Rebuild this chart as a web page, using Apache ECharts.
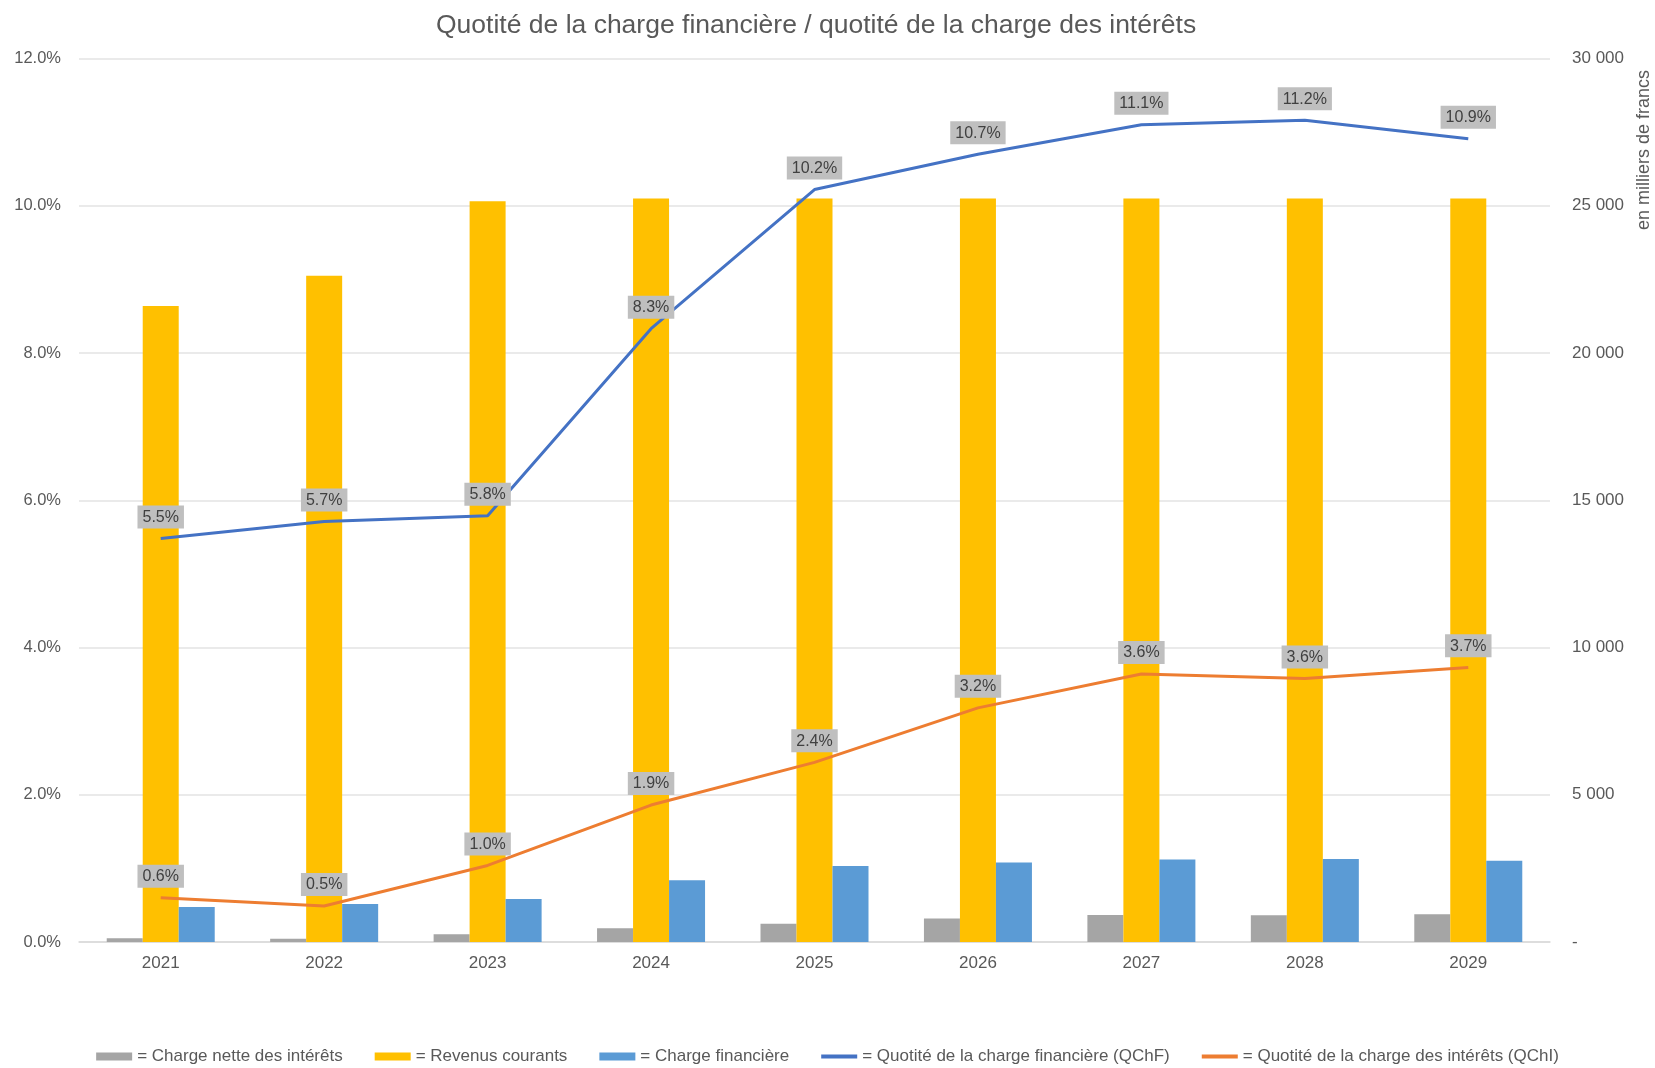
<!DOCTYPE html>
<html>
<head>
<meta charset="utf-8">
<script src="https://cdn.jsdelivr.net/npm/echarts@6/dist/echarts.min.js"></script>
<style>html,body{margin:0;padding:0;background:#fff}#c{width:1655px;height:1068px}</style>
</head>
<body>
<div id="c"></div>
<script>
const years = ['2021','2022','2023','2024','2025','2026','2027','2028','2029'];
const chargeNette = [130, 110, 265, 470, 620, 800, 920, 905, 945];
const revenus = [21600, 22620, 25150, 25250, 25250, 25250, 25250, 25250, 25250];
const chargeFin = [1190, 1290, 1460, 2100, 2580, 2700, 2800, 2820, 2760];
const qchf = [5.48, 5.71, 5.79, 8.33, 10.22, 10.70, 11.10, 11.16, 10.91];
const qchi = [0.60, 0.49, 1.04, 1.86, 2.44, 3.18, 3.64, 3.58, 3.73];
const leftTicks = {min: 0, max: 12, interval: 2};
const rightTicks = {min: 0, max: 30000, interval: 5000};

const FONT = 'Liberation Sans, Arial, sans-serif';
const TXT = '#595959';
const chart = echarts.init(document.getElementById('c'));
const lbl = {
  show: true, position: 'top', distance: 10,
  formatter: p => p.value.toFixed(1) + '%',
  backgroundColor: '#BFBFBF', color: '#404040', fontSize: 16, fontFamily: FONT,
  padding: [4, 5, 3, 5]
};
const lineIcon = 'path://M0,0h36v4h-36z';
chart.setOption({
  animation: false,
  textStyle: {fontFamily: FONT},
  title: {
    text: 'Quotité de la charge financière / quotité de la charge des intérêts',
    left: 431, top: 7,
    textStyle: {fontSize: 26.5, fontWeight: 'normal', color: TXT, fontFamily: FONT}
  },
  grid: {left: 79, right: 105, top: 58.5, bottom: 126, containLabel: false},
  legend: {
    top: 1043, left: 'center', itemGap: 32, itemWidth: 36, itemHeight: 8,
    formatter: '= {name}',
    textStyle: {fontSize: 17, color: TXT, fontFamily: FONT},
    data: [
      {name: 'Charge nette des intérêts', icon: 'rect'},
      {name: 'Revenus courants', icon: 'rect'},
      {name: 'Charge financière', icon: 'rect'},
      {name: 'Quotité de la charge financière (QChF)', icon: lineIcon},
      {name: 'Quotité de la charge des intérêts (QChI)', icon: lineIcon}
    ]
  },
  graphic: [{
    type: 'text', x: 1644, y: 150, rotation: Math.PI / 2,
    style: {text: 'en milliers de francs', fontSize: 18, fill: TXT, fontFamily: FONT,
      align: 'center', verticalAlign: 'middle'}
  }],
  xAxis: {
    type: 'category', data: years,
    axisLine: {lineStyle: {color: '#D9D9D9', width: 1.5}},
    axisTick: {show: false},
    axisLabel: {color: TXT, fontSize: 17, margin: 13, fontFamily: FONT}
  },
  yAxis: [{
    type: 'value', min: leftTicks.min, max: leftTicks.max, interval: leftTicks.interval,
    axisLabel: {formatter: v => v.toFixed(1) + '%', color: TXT, fontSize: 16.5, margin: 18, fontFamily: FONT},
    splitLine: {lineStyle: {color: '#E3E3E3', width: 1.5}},
    axisLine: {show: false}, axisTick: {show: false}
  }, {
    type: 'value', position: 'right', min: rightTicks.min, max: rightTicks.max, interval: rightTicks.interval,
    axisLabel: {formatter: v => v === 0 ? '-' : String(v).replace(/(\d)(?=(\d{3})+$)/g, '$1 '), color: TXT, fontSize: 17, margin: 22, fontFamily: FONT},
    splitLine: {show: false}, axisLine: {show: false}, axisTick: {show: false}
  }],
  series: [
    {name: 'Charge nette des intérêts', type: 'bar', yAxisIndex: 1, data: chargeNette, barWidth: 36, barGap: '0%', itemStyle: {color: '#A5A5A5'}},
    {name: 'Revenus courants', type: 'bar', yAxisIndex: 1, data: revenus, barWidth: 36, barGap: '0%', itemStyle: {color: '#FFC000'}},
    {name: 'Charge financière', type: 'bar', yAxisIndex: 1, data: chargeFin, barWidth: 36, barGap: '0%', itemStyle: {color: '#5B9BD5'}},
    {name: 'Quotité de la charge financière (QChF)', type: 'line', yAxisIndex: 0, data: qchf, symbol: 'circle', symbolSize: 0.01, lineStyle: {color: '#4472C4', width: 3}, itemStyle: {color: '#4472C4'}, label: lbl, z: 5},
    {name: 'Quotité de la charge des intérêts (QChI)', type: 'line', yAxisIndex: 0, data: qchi, symbol: 'circle', symbolSize: 0.01, lineStyle: {color: '#ED7D31', width: 3}, itemStyle: {color: '#ED7D31'}, label: lbl, z: 5}
  ]
});
</script>
</body>
</html>
